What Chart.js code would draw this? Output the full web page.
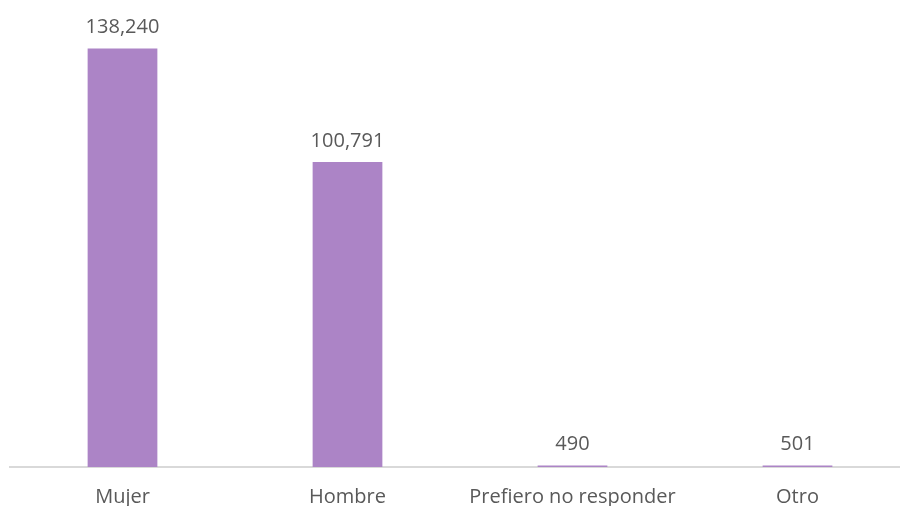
<!DOCTYPE html>
<html>
<head>
<meta charset="utf-8">
<script src="https://cdn.jsdelivr.net/npm/chart.js@4/dist/chart.umd.min.js"></script>
<style>
  html, body { margin: 0; padding: 0; background: #fff; overflow: hidden; }
  #wrap { width: 910px; height: 527px; }
</style>
</head>
<body>
<div id="wrap"><canvas id="myChart"></canvas></div>
<script>
// categories and values
var categories = ['Mujer', 'Hombre', 'Prefiero no responder', 'Otro']
var respuestas = [138240, 100791, 490, 501]

var textColor = '#595959'
var fontFamily = '"Open Sans", "Noto Sans", sans-serif'

// draw the value above every bar
var valueLabels = {
  id: 'valueLabels',
  afterDatasetsDraw: function (chart) {
    var ctx = chart.ctx
    var meta = chart.getDatasetMeta(0)
    ctx.save()
    ctx.font = '20px ' + fontFamily
    ctx.fillStyle = textColor
    ctx.textAlign = 'center'
    ctx.textBaseline = 'bottom'
    meta.data.forEach(function (bar, i) {
      ctx.fillText(respuestas[i].toLocaleString('en-US'), bar.x, bar.y - 11)
    })
    ctx.restore()
  }
}

var ctx = document.getElementById('myChart')
var myChart = new Chart(ctx, {
  type: 'bar',
  data: {
    labels: categories,
    datasets: [{
      data: respuestas,
      backgroundColor: '#ac84c6',
      categoryPercentage: 1,
      barPercentage: 0.31
    }]
  },
  options: {
    responsive: true,
    maintainAspectRatio: false,
    animation: false,
    layout: { padding: { left: 10, right: 0, top: 0, bottom: 0 } },
    plugins: { legend: { display: false }, tooltip: { enabled: false } },
    scales: {
      x: {
        grid: { display: false, drawTicks: false },
        border: { display: true, color: '#d9d9d9', width: 2 },
        ticks: {
          color: textColor,
          padding: 18,
          font: { family: fontFamily, size: 20 }
        }
      },
      y: {
        display: false,
        min: 0,
        max: 154300
      }
    }
  },
  plugins: [valueLabels]
})
</script>
</body>
</html>
